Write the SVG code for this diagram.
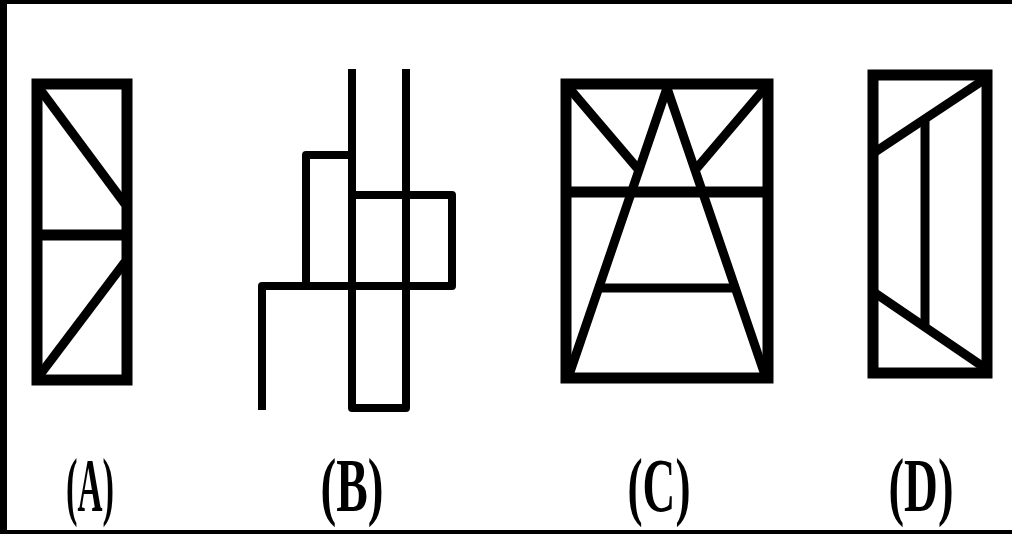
<svg xmlns="http://www.w3.org/2000/svg" width="1012" height="534" viewBox="0 0 1012 534">
<style>
.frame{fill:none;stroke:#000;stroke-width:11;stroke-linejoin:miter}
.ln{fill:none;stroke:#000;stroke-width:9;stroke-linecap:butt;stroke-linejoin:round}
.bl{fill:none;stroke:#000;stroke-width:8;stroke-linejoin:round;stroke-linecap:butt}
.lbl{font-family:"Liberation Serif","Times New Roman",serif;font-weight:bold;font-size:76px;fill:#000;text-anchor:middle}
</style>
<rect x="0" y="0" width="1012" height="534" fill="#fff"/>
<rect x="0" y="0" width="1012" height="4" fill="#000"/>
<rect x="0" y="0" width="7" height="534" fill="#000"/>
<rect x="0" y="530" width="1012" height="4" fill="#000"/>

<g id="figA">
<rect class="frame" x="37" y="84" width="90" height="296"/>
<line class="frame" x1="37" y1="235" x2="127" y2="235"/>
<line class="ln" x1="39" y1="88" x2="125" y2="204"/>
<line class="ln" x1="125" y1="262" x2="39" y2="376"/>
</g>

<g id="figB">
<polyline class="bl" points="352,69 352,408 406,408 406,69"/>
<polyline class="bl" points="352,155 306,155 306,286"/>
<polyline class="bl" points="262,410 262,286 452,286 452,195 352,195"/>
</g>

<g id="figC">
<rect class="frame" x="566" y="84" width="202" height="294"/>
<line class="frame" x1="566" y1="192" x2="768" y2="192"/>
<polyline class="ln" points="569,375 667,88 765,375"/>
<line class="ln" x1="602" y1="288" x2="734" y2="288"/>
<line class="ln" x1="569" y1="88" x2="638" y2="169"/>
<line class="ln" x1="765" y1="88" x2="696" y2="169"/>
</g>

<g id="figD">
<rect class="frame" x="873" y="75" width="114" height="298"/>
<line class="ln" x1="985" y1="79" x2="875" y2="152"/>
<line class="ln" x1="925" y1="118" x2="925" y2="329"/>
<line class="ln" x1="875" y1="293" x2="985" y2="368"/>
</g>

<g id="labels">
<text class="lbl" x="90" y="511" textLength="48" lengthAdjust="spacingAndGlyphs">(A)</text>
<text class="lbl" x="352" y="511" textLength="63" lengthAdjust="spacingAndGlyphs">(B)</text>
<text class="lbl" x="659" y="511" textLength="63" lengthAdjust="spacingAndGlyphs">(C)</text>
<text class="lbl" x="921" y="511" textLength="65" lengthAdjust="spacingAndGlyphs">(D)</text>
</g>
</svg>
